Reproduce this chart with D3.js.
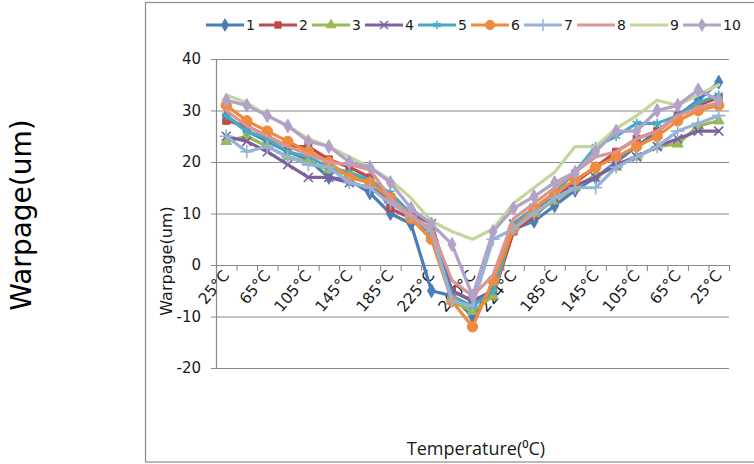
<!DOCTYPE html>
<html>
<head>
<meta charset="utf-8">
<script src="https://cdn.jsdelivr.net/npm/d3@7"></script>
<style>
  html, body { margin: 0; padding: 0; background: #fff; }
  svg { display: block; }
</style>
</head>
<body>
<div id="chart"></div>
<script>
// Reflow temperature profile: ramp up to peak, then cool back down
const temps = [25, 45, 65, 85, 105, 125, 145, 165, 185, 205, 225, 245, 260,
               245, 224, 205, 185, 165, 145, 125, 105, 85, 65, 45, 25];

const seriesNames = ["1", "2", "3", "4", "5", "6", "7", "8", "9", "10"];

const s1  = [29, 26, 24, 22, 20.5, 17, 16.5, 14, 10, 8, -5, -6, -10, -5, 7, 8.5, 11.5, 14.5, 17, 20, 23, 26, 29, 32, 35.5];
const s2  = [28, 27, 25, 23, 23, 20.5, 19, 17, 11, 9, 6, -5, -7, -6, 6.5, 9.5, 13, 16, 19, 22, 24.5, 26, 29, 31, 32.5];
const s3  = [24, 25, 23, 21, 20, 18.5, 17.5, 16, 13.5, 10, 6, -7, -9, -6, 8, 10, 12.5, 15, 17.5, 19, 21, 23, 23.5, 27, 28];
const s4  = [25, 24, 22, 19.5, 17, 17, 16, 15, 13, 10, 8, -5, -7, -5, 8, 11, 13, 15.5, 17, 19.5, 21, 23, 24.5, 26, 26];
const s5  = [29, 26, 24.5, 22, 21, 19, 18, 16.5, 14, 10, 6, -6, -8, -5, 8, 11, 14, 18, 23, 25, 27.5, 27.5, 29, 31.5, 33];
const s6  = [31, 28, 26, 24, 22, 20, 17, 16, 13, 9, 5, -7, -12, -3, 7, 11, 14, 16.5, 19, 21, 23, 25, 28, 30, 31];
const s7  = [25, 22, 23, 21, 19.5, 19, 16, 15, 12, 9.5, 6.5, -7, -8, 5, 7, 10, 13, 15, 15, 19, 21, 23, 26, 27.5, 29];
const s8  = [30, 27, 25, 23, 21.5, 20, 19.5, 18.5, 13, 9.5, 7, -3, -6, -2, 9, 12, 15, 18, 21, 22, 24.5, 26, 29, 30.5, 31.5];
const s9  = [33, 31.5, 29, 27, 24.5, 23, 21, 19, 16.5, 13, 8.5, 6.5, 5, 7, 12, 15, 18, 23, 23, 26.5, 29, 32, 31, 33, 35];
const s10 = [32, 31, 29, 27, 24, 23, 20, 19, 16, 11, 8, 4, -6, 6.5, 11, 13.3, 16, 18, 22, 26, 26, 30, 31, 34, 32];

const seriesValues = [s1, s2, s3, s4, s5, s6, s7, s8, s9, s10];

const yTicks = [-20, -10, 0, 10, 20, 30, 40];

const colors = ["#4A7EBB", "#BE4B48", "#98B954", "#7D60A0", "#46AAC5",
                "#F08A3C", "#95B3D7", "#D99694", "#C3D69B", "#B3A2C7"];

// marker per series (null = no marker)
const markers = [
  { type: d3.symbolDiamond, size: 55, fill: true },
  { type: d3.symbolSquare, size: 50, fill: true },
  { type: d3.symbolTriangle, size: 50, fill: true },
  { type: d3.symbolTimes, size: 55, fill: false },
  { type: d3.symbolAsterisk, size: 60, fill: false },
  { type: d3.symbolCircle, size: 85, fill: true },
  { type: d3.symbolPlus, size: 60, fill: false },
  null,
  null,
  { type: d3.symbolDiamond, size: 55, fill: true }
];

const W = 754, H = 464;
const plot = { left: 216, right: 729, top: 59, bottom: 368 };

const svg = d3.select("#chart").append("svg")
  .attr("width", W).attr("height", H);

// chart area frame
svg.append("rect")
  .attr("x", 145.5).attr("y", 2.5)
  .attr("width", 640).attr("height", 459.5)
  .attr("fill", "#fff")
  .attr("stroke", "#8c8c8c").attr("stroke-width", 1.2);

const idx = d3.range(temps.length);
const x = d3.scaleBand().domain(idx).range([plot.left, plot.right]).padding(0);
const xb = d3.scaleLinear().domain([0, temps.length]).range([plot.left, plot.right]);
const y = d3.scaleLinear().domain([-20, 40]).range([plot.bottom, plot.top]);
const cx = i => x(i) + x.bandwidth() / 2;

// horizontal gridlines
const grid = svg.append("g")
  .attr("transform", `translate(${plot.left},0)`)
  .call(d3.axisLeft(y).tickValues(yTicks).tickSize(-(plot.right - plot.left)).tickFormat(""));
grid.select(".domain").remove();
grid.selectAll("line").attr("stroke", "#8a8a8a").attr("stroke-width", 1.1);

// value axis
const yAxis = svg.append("g")
  .attr("transform", `translate(${plot.left},0)`)
  .call(d3.axisLeft(y).tickValues(yTicks).tickSize(5).tickPadding(10).tickSizeOuter(0)
    .tickFormat(d => String(d)));
yAxis.select(".domain").attr("stroke", "#8a8a8a").attr("stroke-width", 1.2);
yAxis.selectAll("line").attr("stroke", "#8a8a8a");
yAxis.selectAll("text")
  .attr("font-family", "DejaVu Sans").attr("font-size", 15).attr("fill", "#1a1a1a");

// category axis crossing at zero: tick marks between categories
const xTickAxis = svg.append("g")
  .attr("transform", `translate(0,${y(0)})`)
  .call(d3.axisBottom(xb).tickValues(d3.range(temps.length + 1)).tickSize(6).tickSizeOuter(0).tickFormat(""));
xTickAxis.select(".domain").attr("stroke", "#8a8a8a").attr("stroke-width", 1.2);
xTickAxis.selectAll("line").attr("stroke", "#8a8a8a").attr("stroke-width", 1.1);

// category labels, every second one, rotated
const xLab = svg.append("g")
  .attr("transform", `translate(0,${y(0)})`)
  .call(d3.axisBottom(x).tickSize(0).tickFormat(i => i % 2 === 0 ? temps[i] + "°C" : ""));
xLab.select(".domain").remove();
xLab.selectAll("text")
  .attr("x", 0).attr("y", 0).attr("dy", 0)
  .attr("text-anchor", "end")
  .attr("transform", "translate(4,11) rotate(-50)")
  .attr("font-family", "DejaVu Sans").attr("font-size", 15.5).attr("fill", "#1a1a1a");

// series lines
const line = d3.line().x((d, i) => cx(i)).y(d => y(d));

const series = svg.append("g").selectAll("g.series")
  .data(seriesValues)
  .join("g").attr("class", "series");

series.append("path")
  .attr("d", d => line(d))
  .attr("fill", "none")
  .attr("stroke", (d, k) => colors[k])
  .attr("stroke-width", 3.2)
  .attr("stroke-linejoin", "round")
  .attr("stroke-linecap", "round");

series.each(function (vals, k) {
  const m = markers[k];
  if (!m) return;
  const sym = d3.symbol().type(m.type).size(m.size);
  d3.select(this).selectAll("path.mk")
    .data(vals)
    .join("path").attr("class", "mk")
    .attr("transform", (d, i) => `translate(${cx(i)},${y(d)})`)
    .attr("d", sym)
    .attr("fill", m.fill ? colors[k] : "none")
    .attr("stroke", colors[k])
    .attr("stroke-width", m.fill ? 1 : 1.6);
});

// legend
const legend = svg.append("g").attr("transform", "translate(206,25)");
const item = legend.selectAll("g").data(seriesNames).join("g")
  .attr("transform", (d, k) => `translate(${k * 53},0)`);
item.append("line")
  .attr("x1", 0).attr("x2", 38).attr("y1", 0).attr("y2", 0)
  .attr("stroke", (d, k) => colors[k]).attr("stroke-width", 3.2);
item.each(function (d, k) {
  const m = markers[k];
  if (!m) return;
  d3.select(this).append("path")
    .attr("transform", "translate(19,0)")
    .attr("d", d3.symbol().type(m.type).size(m.size * 0.8))
    .attr("fill", m.fill ? colors[k] : "none")
    .attr("stroke", colors[k])
    .attr("stroke-width", m.fill ? 1 : 1.5);
});
item.append("text")
  .attr("x", 40).attr("y", 0).attr("dy", "0.36em")
  .attr("font-family", "DejaVu Sans").attr("font-size", 14).attr("fill", "#1a1a1a")
  .text(d => d);

// axis titles inside the chart area
svg.append("text")
  .attr("transform", "translate(172,261) rotate(-90)")
  .attr("text-anchor", "middle")
  .attr("font-family", "DejaVu Sans").attr("font-size", 16).attr("fill", "#1a1a1a")
  .text("Warpage(um)");

svg.append("text")
  .attr("x", 476).attr("y", 455)
  .attr("text-anchor", "middle")
  .attr("font-family", "Open Sans").attr("font-size", 18).attr("fill", "#1a1a1a")
  .text("Temperature(⁰C)");

// large side caption
svg.append("text")
  .attr("transform", "translate(31,215) rotate(-90)")
  .attr("text-anchor", "middle")
  .attr("font-family", "DejaVu Sans").attr("font-size", 28).attr("fill", "#000")
  .text("Warpage(um)");
</script>
</body>
</html>
